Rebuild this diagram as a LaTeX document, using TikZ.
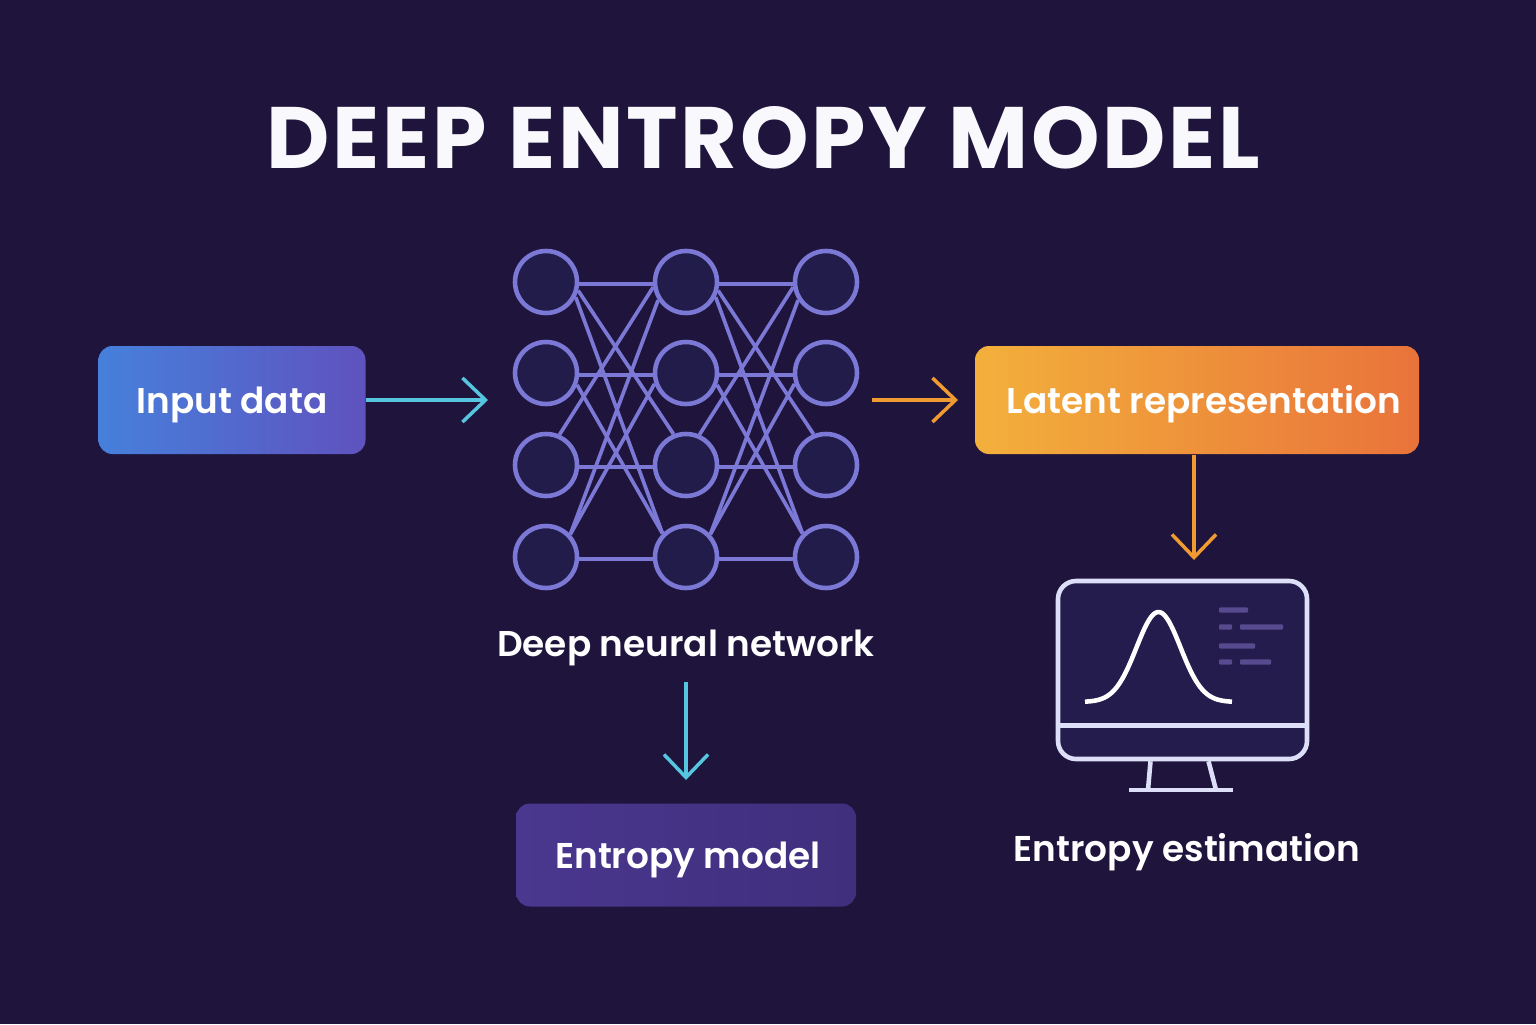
\documentclass[tikz,border=0pt]{standalone}
\usepackage{fontspec}
\setmainfont{Poppins}
\newfontfamily\labelfont{Poppins SemiBold}
\newfontfamily\titlefont[LetterSpace=3.2]{Poppins Bold}
\usetikzlibrary{arrows.meta,positioning,shapes.misc}

\definecolor{bgdark}{HTML}{1F153C}
\definecolor{netline}{HTML}{7B78D6}
\definecolor{netfill}{HTML}{221C4A}
\definecolor{arrowcyan}{HTML}{56C5E0}
\definecolor{arroworange}{HTML}{F09A32}
\definecolor{screenfill}{HTML}{241C4C}
\definecolor{screenline}{HTML}{DDDFF8}
\definecolor{screenbar}{HTML}{584A8E}
\definecolor{inputl}{HTML}{4680DC}
\definecolor{inputr}{HTML}{5F52BE}
\definecolor{latentl}{HTML}{F3B03B}
\definecolor{latentr}{HTML}{E9733B}
\definecolor{entropyl}{HTML}{4A378F}
\definecolor{entropyr}{HTML}{3F2F7C}

\tikzset{
  neuron/.style={circle,draw=netline,fill=netfill,line width=1.3pt,minimum size=0.62cm,inner sep=0pt},
  netedge/.style={netline,line width=1.05pt},
  flowcyan/.style={arrowcyan,line width=1pt,-{Straight Barb[length=0.23cm,width=0.44cm,line width=1pt]}},
  floworange/.style={arroworange,line width=1pt,-{Straight Barb[length=0.23cm,width=0.44cm,line width=1pt]}},
  flowbox/.style={rounded corners=0.14cm,text=white,inner sep=0pt,text height=0.36cm,text depth=0.10cm,font=\labelfont\fontsize{10.2}{13}\selectfont},
  caption/.style={text=white,font=\labelfont\fontsize{10.2}{13}\selectfont},
  monitorline/.style={screenline,line width=1.3pt}
}

\begin{document}
\begin{tikzpicture}
  \useasboundingbox (0,0) rectangle (15.36,10.24);
  \fill[bgdark] (0,0) rectangle (15.36,10.24);

  % Title
  \node[text=white!95!netline,font=\titlefont\fontsize{24.8}{29}\selectfont] (title) at (7.635,8.86) {DEEP ENTROPY MODEL};

  % Boxes
  \node[flowbox,left color=inputl,right color=inputr,minimum width=2.67cm,minimum height=1.08cm] (input) at (2.32,6.24) {Input data};
  \node[flowbox,left color=latentl,right color=latentr,minimum width=4.44cm,minimum height=1.08cm] (latent) at (11.97,6.24) {\hspace*{0.14cm}Latent representation};
  \node[flowbox,left color=entropyl,right color=entropyr,minimum width=3.4cm,minimum height=1.03cm] (entropy) at (6.86,1.69) {\hspace*{0.04cm}Entropy model};

  % Network: columns 1,2,3 and rows 1..4
  \foreach \c/\x in {1/5.46,2/6.86,3/8.26}{
    \foreach \r/\y in {1/7.42,2/6.51,3/5.59,4/4.67}{
      \node[neuron] (n\c\r) at (\x,\y) {};
    }
  }
  \foreach \c/\d in {1/2,2/3}{
    \foreach \a/\sa/\b/\ea in {1/-3/1/183,1/-15/3/112,1/-27/4/135,2/-3/2/183,2/-21/4/135,
      3/66/1/189,3/-3/3/183,4/43/1/213,4/43/2/199,4/-3/4/183}{
      \draw[netedge] (n\c\a.\sa) -- (n\d\b.\ea);
    }
  }
  \node[caption] (netlabel) at (6.86,3.76) {Deep neural network};

  % Monitor
  \node[draw=screenline,fill=screenfill,line width=1.3pt,rounded corners=0.18cm,minimum width=2.49cm,minimum height=1.78cm,inner sep=0pt] (monitor) at (11.825,3.54) {};
  \draw[monitorline] ([yshift=-1.465cm]monitor.north west) -- ([yshift=-1.465cm]monitor.north east);
  \coordinate (standl) at (11.48,2.34);
  \coordinate (standr) at (12.16,2.34);
  \draw[monitorline] ([xshift=-0.32cm]monitor.south) -- (standl);
  \draw[monitorline] ([xshift=0.26cm]monitor.south) -- (standr);
  \draw[monitorline] (11.29,2.34) -- (12.33,2.34);
  \draw[white,line width=1.3pt] plot[domain=-0.735:0.735,samples=70,smooth] ({11.585+\x},{3.22+0.90*exp(-\x*\x/(2*0.22*0.22))});
  \foreach \x/\y/\w in {12.19/4.14/0.29,12.19/3.97/0.13,12.40/3.97/0.43,12.19/3.78/0.36,12.19/3.62/0.13,12.40/3.62/0.31}{
    \fill[screenbar,rounded corners=0.01cm] (\x,\y-0.027) rectangle ++(\w,0.054);
  }
  \node[caption] (estlabel) at (11.87,1.72) {Entropy estimation};

  % Arrows
  \coordinate (netin) at (4.88,6.24);
  \coordinate (netout) at (8.72,6.24);
  \coordinate (latentin) at (9.58,6.24);
  \coordinate (netdown) at (6.86,3.42);
  \coordinate (entropytop) at (6.86,2.44);
  \coordinate (monitortop) at (11.94,4.64);
  \draw[flowcyan] (input.east) -- (netin);
  \draw[floworange] (netout) -- (latentin);
  \draw[floworange] (latent.south -| monitortop) -- (monitortop);
  \draw[flowcyan] (netdown) -- (entropytop);
\end{tikzpicture}
\end{document}
